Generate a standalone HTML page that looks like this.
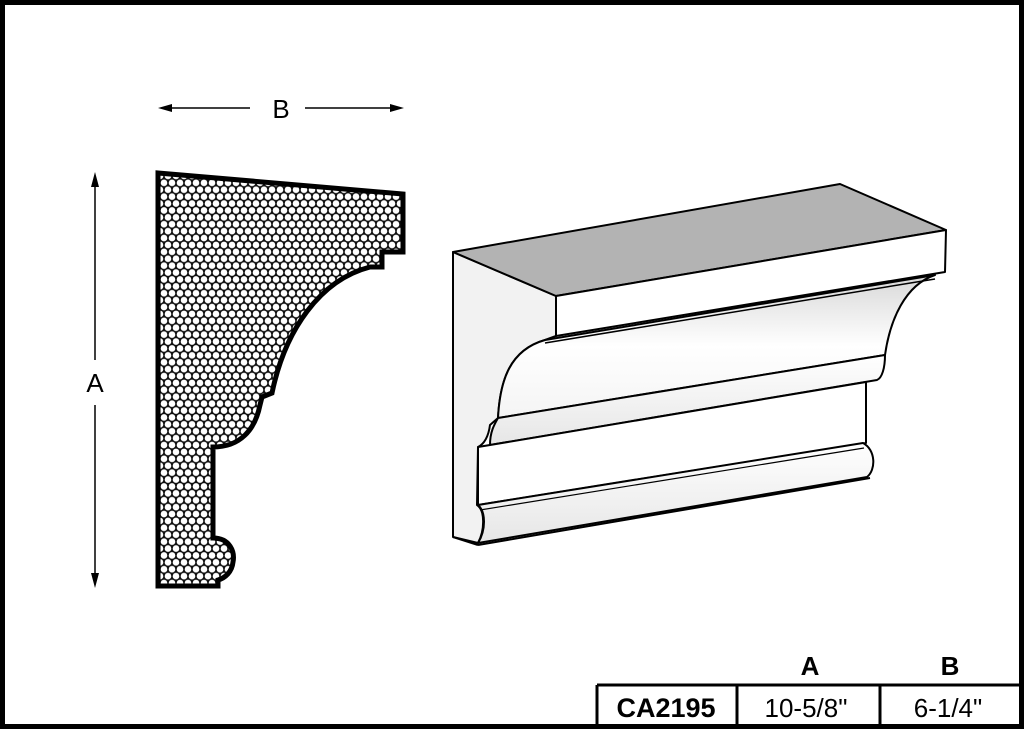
<!DOCTYPE html>
<html><head><style>
html,body{margin:0;padding:0;background:#fff;}
svg{display:block;}
text{font-family:"Liberation Sans",Arial,sans-serif;}
</style></head><body>
<svg width="1024" height="729" viewBox="0 0 1024 729" xmlns="http://www.w3.org/2000/svg">
<defs>
<pattern id="hex" width="8" height="13.8" patternUnits="userSpaceOnUse">
<rect width="8" height="13.8" fill="#111"/>
<circle cx="4" cy="3.45" r="3.3" fill="#fff"/>
<circle cx="0" cy="10.35" r="3.3" fill="#fff"/>
<circle cx="8" cy="10.35" r="3.3" fill="#fff"/>
</pattern>
<linearGradient id="g1" x1="0" y1="0" x2="0" y2="1">
<stop offset="0" stop-color="#fff"/><stop offset="1" stop-color="#e6e6e6"/></linearGradient>
<linearGradient id="g2" x1="0" y1="0" x2="0" y2="1">
<stop offset="0" stop-color="#d8d8d8"/><stop offset="0.5" stop-color="#fff"/><stop offset="1" stop-color="#f4f4f4"/></linearGradient>
</defs>
<rect x="2.5" y="2.5" width="1019" height="724" fill="#fff" stroke="#000" stroke-width="5"/>

<g stroke="#000" stroke-width="1.5" fill="#000">
<line x1="165" y1="108" x2="250" y2="108"/>
<line x1="305" y1="108" x2="396" y2="108"/>
<polygon points="158,108 172,104 172,112" stroke="none"/>
<polygon points="404,108 390,104 390,112" stroke="none"/>
<line x1="95" y1="180" x2="95" y2="360"/>
<line x1="95" y1="405" x2="95" y2="580"/>
<polygon points="95,172 91,187 99,187" stroke="none"/>
<polygon points="95,588 91,573 99,573" stroke="none"/>
</g>
<text x="281" y="118" font-size="26" text-anchor="middle">B</text>
<text x="95" y="392" font-size="26" text-anchor="middle">A</text>

<path d="M158,173 L403,194 L403,252 L382,252 L382,267 L370,267 C320,280 285,330 272,393 L262,397 L260,405 C255,430 240,447 213,447 L213,538 C230,538 235,552 233,562 C232,572 225,578 218,580 L218,586 L158,586 Z" fill="url(#hex)" stroke="#000" stroke-width="5" stroke-linejoin="miter"/>

<g stroke="#000" stroke-width="2" stroke-linejoin="round">
<path d="M453,252 L556,296 L556,336 L545,340 C510,350 500,380 498,418 L490,425 C488,440 482,445 478,447 L477,505 C485,510 485,530 478,543 L453,537 Z" fill="#f2f2f2"/>
<polygon points="453,252 840,184 946,230 556,296" fill="#b3b3b3"/>
<polygon points="556,296 946,230 945,272 556,336" fill="#fff"/>
<path d="M545,340 L935,275 C905,285 890,320 885,355 L498,418 C500,380 510,350 545,340 Z" fill="url(#g2)"/>
<line x1="545" y1="343" x2="935" y2="279" stroke-width="1.5"/>
<path d="M498,418 L885,355 C885,368 882,378 877,380 L490,445 C490,432 494,425 498,418 Z" fill="url(#g1)"/>
<polygon points="478,447 866,382 866,443 478,505" fill="#fff"/>
<path d="M478,505 L863,443 C876,450 876,470 867,477 L478,543 C486,530 486,512 478,505 Z" fill="url(#g1)"/>
<line x1="480" y1="510" x2="864" y2="448" stroke-width="1.2"/>
<line x1="453" y1="537" x2="478" y2="545" />
<line x1="478" y1="545" x2="870" y2="478" />
</g>

<g stroke="#000" stroke-width="3" fill="none">
<line x1="597" y1="685" x2="1021" y2="685"/>
<line x1="597" y1="685" x2="597" y2="727"/>
<line x1="737" y1="685" x2="737" y2="727"/>
<line x1="880" y1="685" x2="880" y2="727"/>
</g>
<text x="810" y="675" font-size="26" font-weight="bold" text-anchor="middle">A</text>
<text x="950" y="675" font-size="26" font-weight="bold" text-anchor="middle">B</text>
<text x="666" y="717" font-size="27" font-weight="bold" text-anchor="middle">CA2195</text>
<text x="806" y="717" font-size="26" text-anchor="middle">10-5/8"</text>
<text x="948" y="717" font-size="26" text-anchor="middle">6-1/4"</text>
</svg>
</body></html>
